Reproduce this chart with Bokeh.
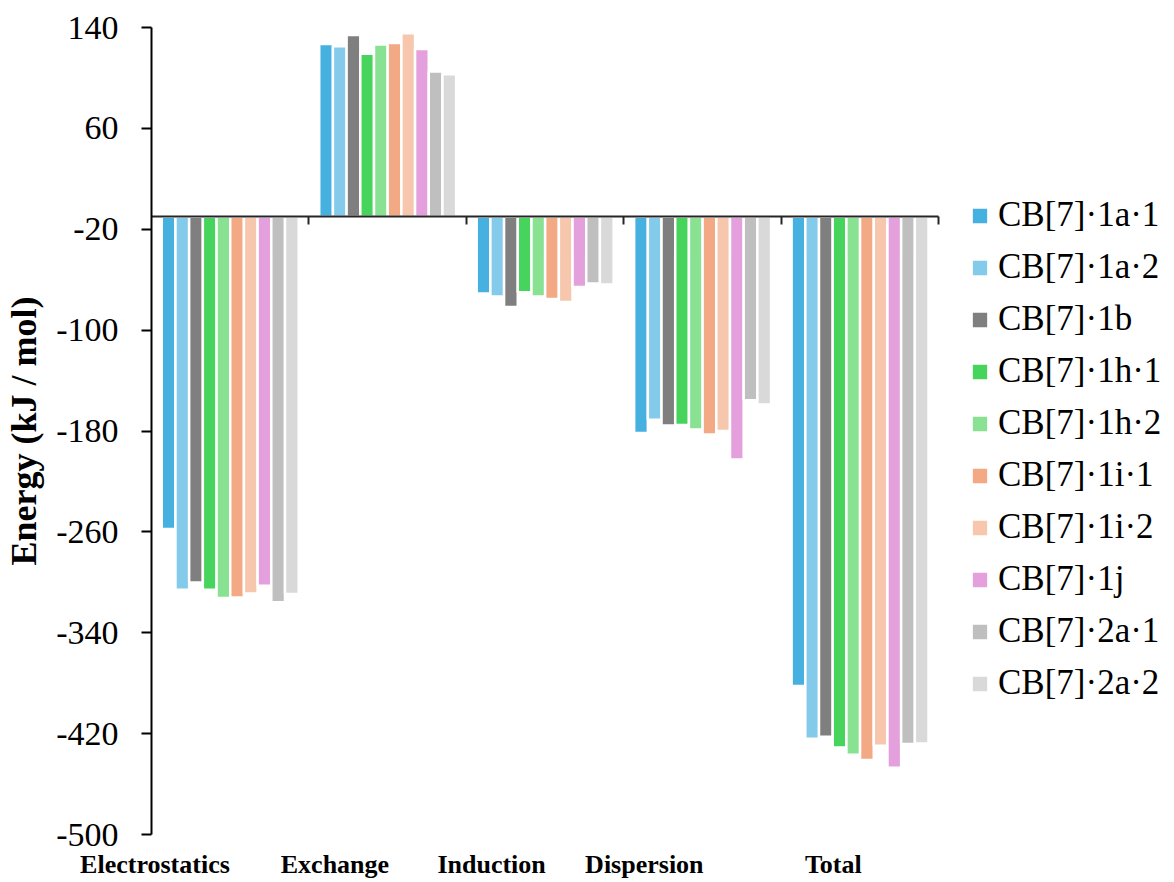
from bokeh.plotting import figure
from bokeh.models import Range1d, FixedTicker, LinearAxis, Legend, LegendItem, ColumnDataSource
from bokeh.embed import file_html
from bokeh.resources import INLINE

COMPONENTS = ["Electrostatics", "Exchange", "Induction", "Dispersion", "Total"]
SERIES = ["CB[7]·1a·1", "CB[7]·1a·2", "CB[7]·1b", "CB[7]·1h·1", "CB[7]·1h·2",
          "CB[7]·1i·1", "CB[7]·1i·2", "CB[7]·1j", "CB[7]·2a·1", "CB[7]·2a·2"]
COLORS = ["#46B0E0", "#84CBEB", "#7F7F7F", "#46D45C", "#88E292",
          "#F2A984", "#F7C7AD", "#E4A0DC", "#BFBFBF", "#D9D9D9"]

ELECTROSTATICS = [-257.8, -305.9, -300.1, -305.9, -312.5, -312.0, -308.8, -302.7, -315.9, -309.3]
EXCHANGE = [127.0, 125.2, 134.1, 119.1, 126.5, 127.8, 135.5, 123.0, 105.1, 103.0]
INDUCTION = [-71.0, -73.4, -81.7, -70.0, -73.4, -75.3, -77.7, -65.8, -63.1, -63.9]
DISPERSION = [-181.6, -171.0, -175.7, -175.3, -178.9, -182.7, -180.0, -202.7, -155.7, -158.9]
TOTAL = [-382.3, -424.1, -422.5, -431.0, -436.8, -441.0, -429.6, -447.1, -428.3, -427.8]

Y_TICKS = [140, 60, -20, -100, -180, -260, -340, -420, -500]
Y_MIN, Y_MAX = -500, 140
AXIS_CROSS = -10

# ---- layout constants (the frame covers the whole canvas; axes are pinned inside) ----
W, H = 1172, 880
LEFT, TOP = 151, 27                 # pixel position of the value-axis origin corner
CAT_PX = 787.3                      # pixel width of the 5 category slots
VAL_PX = 807.0                      # pixel height of the value axis (140 .. -500)
N_CAT = len(COMPONENTS)
PX_PER_CAT = CAT_PX / N_CAT
PX_PER_VAL = VAL_PX / (Y_MAX - Y_MIN)
X_START = -LEFT / PX_PER_CAT
X_END = (W - LEFT) / PX_PER_CAT
Y_HIGH = Y_MAX + TOP / PX_PER_VAL
Y_LOW = Y_MIN - (H - TOP - VAL_PX) / PX_PER_VAL
LABEL_POS = [0.022, 1.165, 2.16, 3.13, 4.33]
N = len(SERIES)
SLOT = 1.0 / (N + 1.5)
SERIF = "Liberation Serif"

p = figure(width=W, height=H, x_range=Range1d(X_START, X_END), y_range=Range1d(Y_LOW, Y_HIGH),
           output_backend="svg", toolbar_location=None,
           min_border_left=0, min_border_right=0, min_border_top=0, min_border_bottom=0)
p.xgrid.visible = False
p.ygrid.visible = False
p.outline_line_color = None
p.background_fill_color = "white"
p.border_fill_color = "white"

values_by_comp = [ELECTROSTATICS, EXCHANGE, INDUCTION, DISPERSION, TOTAL]
items = []
for j, (name, color) in enumerate(zip(SERIES, COLORS)):
    xs = [c + (0.75 + j + 0.5) * SLOT for c in range(N_CAT)]
    tops = [vals[j] for vals in values_by_comp]
    src = ColumnDataSource(dict(x=xs, top=tops))
    r = p.vbar(x="x", top="top", bottom=AXIS_CROSS, width=SLOT, source=src,
               fill_color=color, line_color="white", line_width=2.5)
    items.append(LegendItem(label=name, renderers=[r]))

# category label axis (pinned at the bottom of the value axis)
xa = p.xaxis[0]
xa.fixed_location = Y_MIN
xa.ticker = FixedTicker(ticks=LABEL_POS)
xa.major_label_overrides = {pos: lab for pos, lab in zip(LABEL_POS, COMPONENTS)}
xa.axis_line_color = None
xa.major_tick_line_color = None
xa.minor_tick_line_color = None
xa.major_tick_out = 0
xa.major_tick_in = 0
xa.major_label_standoff = 15
xa.major_label_text_font = SERIF
xa.major_label_text_font_style = "bold"
xa.major_label_text_font_size = "26px"
xa.major_label_text_color = "black"

# horizontal axis line crossing at AXIS_CROSS with category dividers
DIVIDERS = [1, 2, 3, 4, 5]
la = LinearAxis(fixed_location=AXIS_CROSS, ticker=FixedTicker(ticks=DIVIDERS), bounds=(0, N_CAT))
la.axis_line_color = "#262626"
la.axis_line_width = 2
la.major_tick_line_color = "#262626"
la.major_tick_line_width = 2
la.major_tick_out = 8
la.major_tick_in = 0
la.minor_tick_line_color = None
la.major_label_overrides = {t: "" for t in DIVIDERS}
p.add_layout(la, "below")

# value axis pinned at the left edge of the categories
ya = p.yaxis[0]
ya.fixed_location = 0
ya.bounds = (Y_MIN, Y_MAX)
ya.ticker = FixedTicker(ticks=Y_TICKS)
ya.major_label_overrides = {t: str(t) for t in Y_TICKS}
ya.axis_line_color = "black"
ya.axis_line_width = 2
ya.major_tick_line_color = "black"
ya.major_tick_line_width = 2
ya.major_tick_out = 10
ya.major_tick_in = 0
ya.minor_tick_line_color = None
ya.major_label_standoff = 23
ya.major_label_text_font = SERIF
ya.major_label_text_font_size = "34px"
ya.major_label_text_color = "black"
ya.axis_label = "Energy (kJ / mol)"
ya.axis_label_text_font = SERIF
ya.axis_label_text_font_style = "bold"
ya.axis_label_text_font_size = "36px"
ya.axis_label_text_color = "black"
ya.axis_label_standoff = 9

legend = Legend(items=items, location=(969, 171), orientation="vertical",
                glyph_width=21, glyph_height=21, label_standoff=8,
                label_text_font=SERIF, label_text_font_size="35px",
                label_text_color="black", spacing=0, label_height=52,
                padding=0, margin=0, border_line_color=None,
                background_fill_alpha=0)
p.add_layout(legend, "center")

open("out.html", "w").write(file_html(p, INLINE))
